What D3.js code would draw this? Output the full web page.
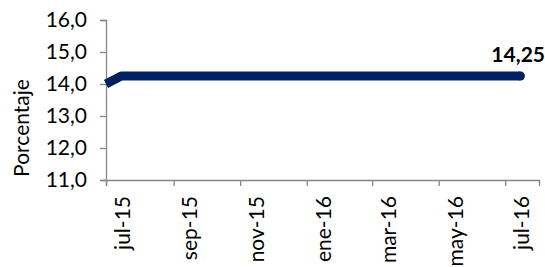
<!DOCTYPE html>
<html><head><meta charset="utf-8">
<script src="https://cdn.jsdelivr.net/npm/d3@7"></script>
<style>
body{margin:0;background:#fff;}
svg{display:block;}
text{font-family:Lato,"Open Sans",sans-serif;fill:#000;}
</style></head>
<body>
<svg id="c" width="545" height="267"></svg>
<script>
// Data
const dates = ["2015-07-01","2015-07-15","2015-08-15","2015-09-15","2015-10-15","2015-11-15","2015-12-15","2016-01-15","2016-02-15","2016-03-15","2016-04-15","2016-05-15","2016-06-15","2016-07-15"];
const values = [14.0,14.25,14.25,14.25,14.25,14.25,14.25,14.25,14.25,14.25,14.25,14.25,14.25,14.25];
const yTicks = [11,12,13,14,15,16];
const monthNames = ["ene","feb","mar","abr","may","jun","jul","ago","sep","oct","nov","dic"];
const lastLabel = "14,25";
const yTitle = "Porcentaje";

const FS = 21;
const parse = d3.timeParse("%Y-%m-%d");
const data = dates.map((d,i)=>({date:parse(d), value:values[i]}));

const svg = d3.select("#c");
const x = d3.scaleTime().domain([parse("2015-07-01"), parse("2016-08-01")]).range([106, 539]);
const y = d3.scaleLinear().domain([11,16]).range([180, 20]);
const axisColor = "#868686";

// y axis
const yAxis = svg.append("g").attr("transform","translate(106,0)")
  .call(d3.axisLeft(y).tickValues(yTicks).tickSize(6).tickPadding(13)
    .tickFormat(d=>d3.format(".1f")(d).replace(".",",")));
yAxis.select(".domain").attr("stroke",axisColor).attr("stroke-width",1.3);
yAxis.selectAll(".tick line").attr("stroke",axisColor).attr("stroke-width",1.3);
yAxis.selectAll("text").attr("font-size",FS).attr("fill","#000").style("font-family","Lato,'Open Sans',sans-serif");

// x axis
const tickDates = d3.timeMonth.every(2).range(parse("2015-07-01"), parse("2016-07-02"));
const xAxis = svg.append("g").attr("transform","translate(0,180)")
  .call(d3.axisBottom(x).tickValues(tickDates).tickSize(6).tickFormat(""));
xAxis.select(".domain").attr("stroke",axisColor).attr("stroke-width",1.3);
xAxis.selectAll(".tick line").attr("stroke",axisColor).attr("stroke-width",1.3);

const fmt = d => monthNames[d.getMonth()] + "-" + String(d.getFullYear()).slice(2);
svg.append("g").selectAll("text").data(tickDates).join("text")
  .attr("transform", d => {
    const mid = (x(d) + x(d3.timeMonth.offset(d,1)))/2;
    return `translate(${mid},196) rotate(-90)`;
  })
  .attr("text-anchor","end").attr("dy","0.35em").attr("font-size",FS)
  .text(fmt);

// y title
svg.append("text").attr("transform","translate(22,128) rotate(-90)")
  .attr("text-anchor","middle").attr("dy","0.35em").attr("font-size",FS).text(yTitle);

// line
svg.append("path").datum(data)
  .attr("fill","none").attr("stroke","#002060").attr("stroke-width",9)
  .attr("stroke-linejoin","round").attr("stroke-linecap","butt")
  .attr("d", d3.line().x(d=>x(d.date)).y(d=>y(d.value)));
const last = data[data.length-1];
svg.append("circle").attr("cx",x(last.date)).attr("cy",y(last.value)).attr("r",4.5).attr("fill","#002060");

svg.append("text").attr("x",545).attr("y",62).attr("text-anchor","end")
  .attr("font-size",FS).attr("font-weight","bold").text(lastLabel);
</script>
</body></html>
